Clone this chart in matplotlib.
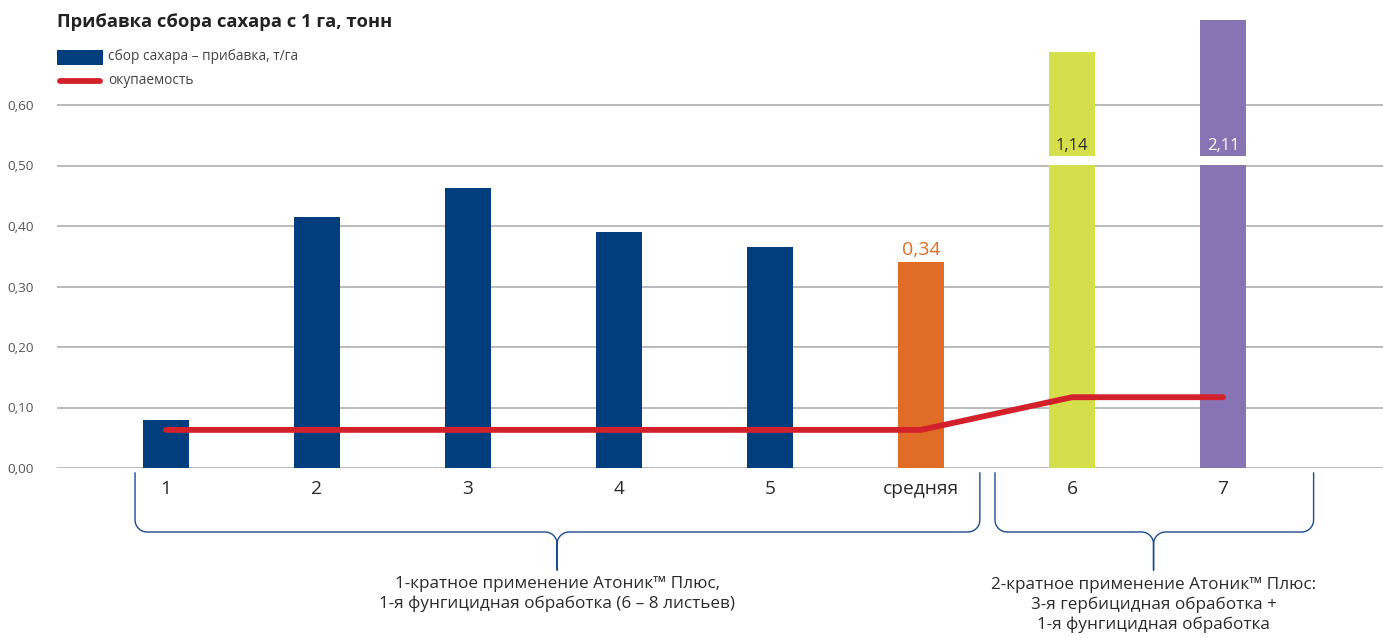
import numpy as np
import matplotlib
matplotlib.use("Agg")
import matplotlib.pyplot as plt
from matplotlib import transforms
from matplotlib.patches import Rectangle

# ---------------- data ----------------
categories = ["1", "2", "3", "4", "5", "средняя", "6", "7"]
sugar_gain = [0.08, 0.415, 0.463, 0.39, 0.365, 0.34, 1.14, 2.11]
payback = [0.063, 0.063, 0.063, 0.063, 0.063, 0.063, 0.117, 0.117]
bar_colors = ["#023e7d", "#023e7d", "#023e7d", "#023e7d", "#023e7d",
              "#e06c27", "#d5df4b", "#8974b3"]
value_labels = {5: "0,34", 6: "1,14", 7: "2,11"}
yticks = [0.0, 0.1, 0.2, 0.3, 0.4, 0.5, 0.6]
ytick_labels = ["0,00", "0,10", "0,20", "0,30", "0,40", "0,50", "0,60"]
title = "Прибавка сбора сахара с 1 га, тонн"
legend_bar = "сбор сахара – прибавка, т/га"
legend_line = "окупаемость"
group1_text = "1-кратное применение Атоник™ Плюс,\n1-я фунгицидная обработка (6 – 8 листьев)"
group2_text = "2-кратное применение Атоник™ Плюс:\n3-я гербицидная обработка +\n1-я фунгицидная обработка"

plt.rcParams['font.family'] = ['Open Sans', 'DejaVu Sans']

W, H = 1383, 638
fig = plt.figure(figsize=(W / 100, H / 100), dpi=100)
fig.patch.set_facecolor("white")

# axes: y=0 at pixel 468, 0.6 at pixel 105; x: cat0 at px 166, step 151
px_per_unit_y = (468 - 105) / 0.6
ax_left_px, ax_right_px = 57, W
ax = fig.add_axes([ax_left_px / W, (H - 468) / H, (ax_right_px - ax_left_px) / W, 468 / H])
ax.set_ylim(0, 468 / px_per_unit_y)
x0_px, step_px = 166, 151
ax.set_xlim((ax_left_px - x0_px) / step_px, (ax_right_px - x0_px) / step_px)
for s in ax.spines.values():
    s.set_visible(False)

# broken-axis display for values beyond the visible scale
BREAK, GAP = 0.50, 0.016
def shown_height(v):
    if v <= 0.62:
        return v
    return BREAK + GAP + 0.195 * (v - BREAK) ** 0.293

x = np.arange(len(categories))
heights = [shown_height(v) for v in sugar_gain]

# gridlines
ax.set_yticks(yticks)
ax.set_yticklabels(ytick_labels)
ax.yaxis.grid(True, color="#b5b5b5", linewidth=1.3, zorder=0)
ax.set_axisbelow(True)
ax.tick_params(axis="y", length=0, pad=17, labelsize=9.7, labelcolor="#555555")
ax.set_xticks(x)
ax.set_xticklabels(categories)
ax.tick_params(axis="x", length=0, pad=9, labelsize=13.8, labelcolor="#2b2b2b")

ax.bar(x, heights, width=0.305, color=bar_colors, zorder=2)

# break gaps
for i, v in enumerate(sugar_gain):
    if v > 0.62:
        ax.add_patch(Rectangle((x[i] - 0.16, BREAK + 0.0015), 0.32, GAP - 0.0015,
                               facecolor="white", edgecolor="none", zorder=3))

# payback line
ax.plot(x[:len(payback)], payback, color="#d3212b", linewidth=4.2,
        solid_capstyle="round", solid_joinstyle="round", zorder=4)

# value labels
for i, txt in value_labels.items():
    if sugar_gain[i] > 0.62:
        ax.text(x[i], BREAK + GAP + 0.016, txt, ha="center", va="center",
                fontsize=12, color="#2b2b2b" if i == 6 else "white", zorder=5)
    else:
        ax.text(x[i], heights[i] + 0.005, txt, ha="center", va="bottom",
                fontsize=14, color="#e06c27", zorder=5)

# pixel transform (top-left origin)
pix = transforms.Affine2D().scale(1, -1).translate(0, H)

def cat_px(v):
    return x0_px + step_px * v

# title & legend
fig.text(57 / W, 1 - 22 / H, title, ha="left", va="center", fontsize=13.2,
         fontweight="bold", color="#222222")
fig.patches.append(Rectangle((57, 50), 46, 15, facecolor="#023e7d", edgecolor="none",
                             transform=pix, figure=fig))
fig.text(108 / W, 1 - 57 / H, legend_bar, ha="left", va="center", fontsize=9.9, color="#444444")
fig.lines.append(plt.Line2D([60, 100], [81, 81], color="#d3212b", linewidth=4.2,
                            solid_capstyle="round", transform=pix, figure=fig))
fig.text(108 / W, 1 - 81 / H, legend_line, ha="left", va="center", fontsize=9.9, color="#444444")

# braces
def brace(xl, xr, xc, ytop=473, ymid=532, ytip=570, r=12):
    pts = []
    def arc(cx, cy, a0, a1):
        t = np.linspace(np.radians(a0), np.radians(a1), 12)
        return list(zip(cx + r * np.cos(t), cy + r * np.sin(t)))
    pts.append((xl, ytop))
    pts += arc(xl + r, ymid - r, 180, 90)
    pts += arc(xc - r, ymid + r, 270, 360)
    pts.append((xc, ytip))
    pts.append((xc, ymid + r))
    pts += arc(xc + r, ymid + r, 180, 270)
    pts += arc(xr - r, ymid - r, 90, 0)
    pts.append((xr, ytop))
    xs, ys = zip(*pts)
    fig.lines.append(plt.Line2D(xs, ys, color="#1d4b8f", linewidth=1.0,
                                transform=pix, figure=fig))

brace(cat_px(-0.205), cat_px(5.39), cat_px(2.59))
brace(cat_px(5.49), cat_px(7.60), cat_px(6.54))

fig.text(cat_px(2.59) / W, 1 - 594 / H, group1_text, ha="center", va="center",
         fontsize=12.3, color="#2b2b2b", linespacing=1.3)
fig.text(cat_px(6.54) / W, 1 - 605 / H, group2_text, ha="center", va="center",
         fontsize=12.3, color="#2b2b2b", linespacing=1.3)

fig.savefig("out.png", dpi=100, facecolor="white")
